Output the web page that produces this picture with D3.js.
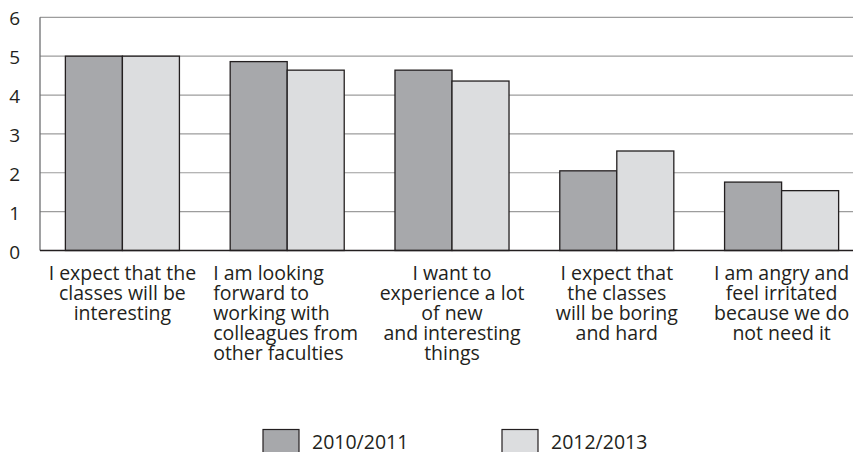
<!DOCTYPE html>
<html><head><meta charset="utf-8">
<script src="https://cdn.jsdelivr.net/npm/d3@7"></script>
<style>
html,body{margin:0;padding:0;background:#fff;}
svg{display:block;}
text{font-family:"Open Sans",sans-serif;fill:#231f20;}
</style></head>
<body>
<script>
const categories = [
  ["I expect that the","classes will be","interesting"],
  ["I am looking","forward to","working with","colleagues from","other faculties"],
  ["I want to","experience a lot","of new","and interesting","things"],
  ["I expect that","the classes","will be boring","and hard"],
  ["I am angry and","feel irritated","because we do","not need it"]
];
const labelAlign = ["middle","start","middle","middle","middle"];
const seriesNames = ["2010/2011","2012/2013"];
const values2010 = [5.0, 4.86, 4.64, 2.05, 1.76];
const values2012 = [5.0, 4.64, 4.36, 2.56, 1.54];
const yTicks = [0,1,2,3,4,5,6];
const colors = ["#a7a8ab","#dcdddf"];

const W = 853, H = 452;
const svg = d3.select("body").append("svg").attr("width", W).attr("height", H);

const idx = categories.map((c,i)=>i);
const x0 = d3.scaleBand().domain(idx).range([40, 864]).paddingInner(0.308).paddingOuter(0.154);
const x1 = d3.scaleBand().domain([0,1]).range([0, x0.bandwidth()]);
const y = d3.scaleLinear().domain([0,6]).range([250.5, 17.3]);

// gridlines
svg.append("g").selectAll("line").data(yTicks.filter(t=>t>0)).join("line")
  .attr("x1", 40).attr("x2", W).attr("y1", d=>y(d)).attr("y2", d=>y(d))
  .attr("stroke", "#9d9d9d").attr("stroke-width", 1.2);

// y tick labels
svg.append("g").selectAll("text").data(yTicks).join("text")
  .attr("x", 20).attr("y", d=>y(d)+1.5).attr("dy","0.35em").attr("text-anchor","end")
  .attr("font-size", 19).text(d=>d);

// bars
const seriesVals = [values2010, values2012];
const g = svg.append("g");
idx.forEach(i=>{
  g.selectAll(null).data([0,1]).join("rect")
    .attr("x", s=>x0(i)+x1(s)).attr("y", s=>y(seriesVals[s][i]))
    .attr("width", x1.bandwidth()).attr("height", s=>y(0)-y(seriesVals[s][i]))
    .attr("fill", s=>colors[s]).attr("stroke","#231f20").attr("stroke-width",1.3);
});

// axes lines
svg.append("line").attr("x1",40).attr("x2",40).attr("y1",y(6)).attr("y2",y(0))
  .attr("stroke","#6d6e70").attr("stroke-width",1.3);
svg.append("line").attr("x1",40).attr("x2",W).attr("y1",y(0)).attr("y2",y(0))
  .attr("stroke","#231f20").attr("stroke-width",1.5);

// category labels
idx.forEach(i=>{
  const cx = labelAlign[i]==="start" ? x0(i) - 17 : x0(i)+x0.bandwidth()/2;
  const t = svg.append("text").attr("text-anchor", labelAlign[i]).attr("font-size", 19.5);
  t.selectAll("tspan").data(categories[i]).join("tspan")
    .attr("x", cx).attr("y", (d,j)=>280 + j*20).text(d=>d);
});

// legend
const lg = svg.append("g");
const legX = [263, 502];
seriesNames.forEach((n,s)=>{
  lg.append("rect").attr("x", legX[s]).attr("y", 429.5).attr("width", 36).attr("height", 30)
    .attr("fill", colors[s]).attr("stroke","#231f20").attr("stroke-width",1.2);
  lg.append("text").attr("x", legX[s]+49).attr("y", 449).attr("font-size", 19.5).text(n);
});
</script>
</body></html>
